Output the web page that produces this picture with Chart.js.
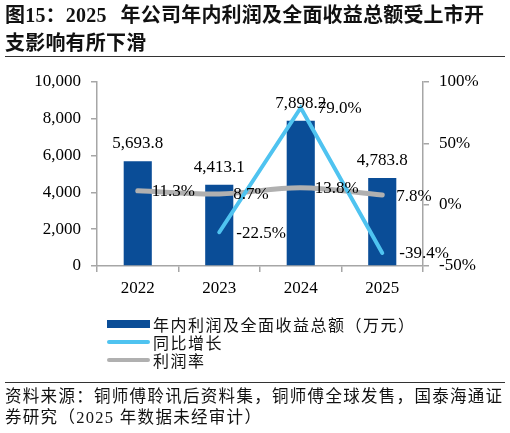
<!DOCTYPE html>
<html>
<head>
<meta charset="utf-8">
<script src="https://cdn.jsdelivr.net/npm/chart.js@4"></script>
<style>
  body { margin: 0; background: #fff; }
  #wrap { position: relative; width: 510px; height: 433px; overflow: hidden; }
  #chart { position: absolute; left: 0; top: 0; }
  .title {
    position: absolute; left: 5px; top: 1px; width: 505px;
    font: bold 20px 'Liberation Serif', 'Noto Sans CJK SC', serif;
    line-height: 28px; letter-spacing: 0.2px; color: #111; white-space: nowrap;
  }
  .rule { position: absolute; left: 5px; width: 500px; height: 0; border-top: 1.5px solid #333; }
  .legend { position: absolute; left: 107px; top: 315px; }
  .legend .row { height: 18px; display: flex; align-items: center; }
  .legend .sw { width: 43px; margin-right: 3px; }
  .legend .txt { font: 16px 'Noto Sans CJK SC', sans-serif; letter-spacing: 1.5px; color: #111; }
  .foot {
    position: absolute; left: 5px; top: 386px; width: 505px;
    font: 16.5px 'Liberation Serif', 'Noto Sans CJK SC', serif;
    line-height: 21px; letter-spacing: 1.3px; color: #111; white-space: nowrap;
  }
</style>
</head>
<body>
<div id="wrap">
  <canvas id="chart" width="510" height="433"></canvas>
  <div class="title">图15：2025<span style="display:inline-block;width:14px"></span>年公司年内利润及全面收益总额受上市开<br>支影响有所下滑</div>
  <div class="rule" style="top:56px"></div>
  <div class="legend" id="legend"></div>
  <div class="rule" style="top:382px"></div>
  <div class="foot">资料来源：铜师傅聆讯后资料集，铜师傅全球发售，国泰海通证<br>券研究（2025 年数据未经审计）</div>
</div>
<script>
const years = ['2022', '2023', '2024', '2025'];
const profitTotal = [5693.8, 4413.1, 7898.2, 4783.8];   // 万元
const growthYoY = [null, -22.5, 79.0, -39.4];           // %
const profitRate = [11.3, 8.7, 13.8, 7.8];              // %

const leftTicks = [0, 2000, 4000, 6000, 8000, 10000];
const rightTicks = [-50, 0, 50, 100];

const names = ['年内利润及全面收益总额（万元）', '同比增长', '利润率'];
const barColor = '#0a4d97';
const growthColor = '#4fc3f0';
const rateColor = '#b0b0b0';
const axisColor = '#a6a6a6';
const serif = "'Liberation Serif', 'Times New Roman', serif";

// value labels drawn next to the marks
const labelPlugin = {
  id: 'valueLabels',
  afterDatasetsDraw(chart) {
    const ctx = chart.ctx;
    ctx.save();
    ctx.font = '17px ' + serif;
    ctx.fillStyle = '#000';
    chart.data.datasets.forEach((ds, i) => {
      const meta = chart.getDatasetMeta(i);
      meta.data.forEach((el, j) => {
        const v = ds.data[j];
        if (v == null) return;
        if (ds.type === 'bar') {
          ctx.textAlign = 'center';
          ctx.textBaseline = 'alphabetic';
          ctx.fillText(v.toLocaleString('en-US', { minimumFractionDigits: 1 }), el.x, el.y - 13);
        } else {
          ctx.textAlign = 'left';
          ctx.textBaseline = 'middle';
          ctx.fillText(v.toFixed(1) + '%', el.x + ds.labelOffset, el.y + 1);
        }
      });
    });
    ctx.restore();
  }
};

const ctx = document.getElementById('chart').getContext('2d');
const chart = new Chart(ctx, {
  data: {
    labels: years,
    datasets: [
      {
        type: 'line',
        label: names[1],
        data: growthYoY,
        yAxisID: 'y1',
        borderColor: growthColor,
        backgroundColor: growthColor,
        borderWidth: 4,
        pointRadius: 0,
        tension: 0,
        borderCapStyle: 'round',
        labelOffset: 17,
        order: 1
      },
      {
        type: 'line',
        label: names[2],
        data: profitRate,
        yAxisID: 'y1',
        borderColor: rateColor,
        backgroundColor: rateColor,
        borderWidth: 5,
        pointRadius: 0,
        tension: 0.35,
        borderCapStyle: 'round',
        labelOffset: 14,
        order: 2
      },
      {
        type: 'bar',
        label: names[0],
        data: profitTotal,
        yAxisID: 'y',
        backgroundColor: barColor,
        categoryPercentage: 1,
        barPercentage: 0.345,
        order: 3
      }
    ]
  },
  options: {
    responsive: false,
    animation: false,
    devicePixelRatio: 1,
    layout: { padding: { top: 82, bottom: 137, left: 0, right: 0 } },
    plugins: {
      legend: { display: false },
      tooltip: { enabled: false }
    },
    scales: {
      x: {
        grid: { drawOnChartArea: false, drawTicks: true, tickLength: 6, color: axisColor, lineWidth: 1.5 },
        border: { color: axisColor, width: 1.5 },
        ticks: { font: { family: serif, size: 17 }, color: '#000', padding: 6 },
        afterFit: s => { s.height = 30; }
      },
      y: {
        position: 'left',
        min: 0,
        max: 10000,
        afterBuildTicks: s => { s.ticks = leftTicks.map(v => ({ value: v })); },
        grid: { drawOnChartArea: false, drawTicks: true, tickLength: 6, color: axisColor, lineWidth: 1.5 },
        border: { color: axisColor, width: 1.5 },
        ticks: {
          font: { family: serif, size: 17 }, color: '#000', padding: 10,
          callback: v => v.toLocaleString('en-US')
        },
        afterFit: s => { s.width = 97; }
      },
      y1: {
        position: 'right',
        min: -50,
        max: 100,
        afterBuildTicks: s => { s.ticks = rightTicks.map(v => ({ value: v })); },
        grid: { drawOnChartArea: false, drawTicks: true, tickLength: 6, color: axisColor, lineWidth: 1.5 },
        border: { color: axisColor, width: 1.5 },
        ticks: {
          font: { family: serif, size: 17 }, color: '#000', padding: 10,
          callback: v => v + '%'
        },
        afterFit: s => { s.width = 87; }
      }
    }
  },
  plugins: [labelPlugin]
});

// legend, in the order of the reference
const legendEl = document.getElementById('legend');
[2, 0, 1].forEach(i => {
  const ds = chart.data.datasets[i];
  const row = document.createElement('div');
  row.className = 'row';
  const sw = document.createElement('div');
  sw.className = 'sw';
  if (ds.type === 'bar') {
    sw.style.height = '8px';
    sw.style.background = ds.backgroundColor;
  } else {
    sw.style.height = '4px';
    sw.style.borderRadius = '2px';
    sw.style.background = ds.borderColor;
  }
  const txt = document.createElement('span');
  txt.className = 'txt';
  txt.textContent = ds.label;
  row.appendChild(sw);
  row.appendChild(txt);
  legendEl.appendChild(row);
});
</script>
</body>
</html>
